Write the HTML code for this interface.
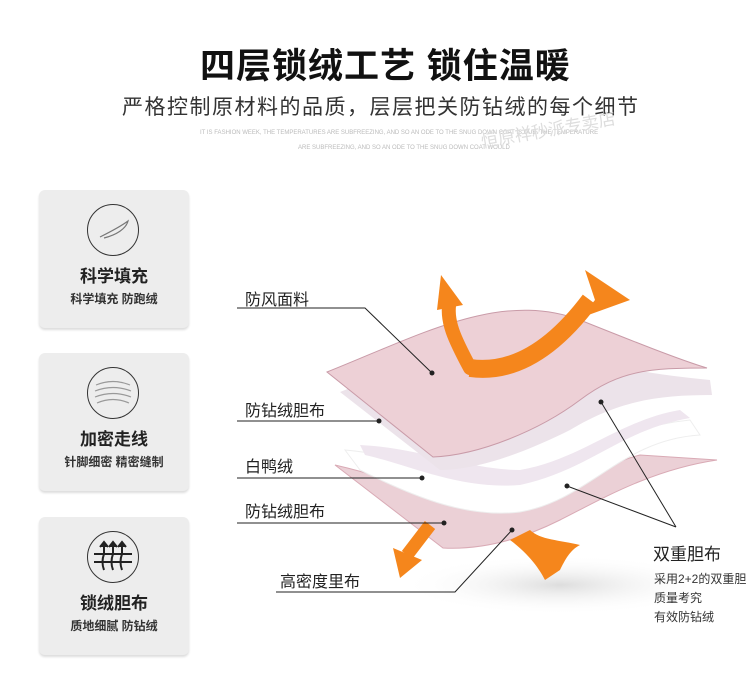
<!DOCTYPE html>
<html><head><meta charset="utf-8"><style>
body{margin:0;width:750px;height:682px;background:#fff;position:relative;overflow:hidden;font-family:"Liberation Sans","Noto Sans CJK SC",sans-serif;color:#222}
.a{position:absolute;white-space:nowrap}
.card{position:absolute;left:39px;width:150px;height:138px;background:#ededed;border-radius:6px;box-shadow:0 2px 2px #ddd}
.circ{position:absolute;left:48px;top:14px;width:50px;height:50px;border:1.5px solid #333;border-radius:50%}
.t1{position:absolute;left:0;width:150px;text-align:center;top:72px;font-size:17px;font-weight:bold;color:#222}
.t2{position:absolute;left:0;width:150px;text-align:center;top:100px;font-size:12px;font-weight:bold;color:#333}
.lb{font-size:16px;color:#222}
</style></head><body>
<div class="a" style="left:200px;top:38px;font-size:35px;font-weight:bold;letter-spacing:1px;color:#111">四层锁绒工艺 锁住温暖</div>
<div class="a" style="left:122px;top:91px;font-size:21px;color:#333;letter-spacing:1.5px">严格控制原材料的品质，层层把关防钻绒的每个细节</div>
<div class="a" style="left:200px;top:130px;font-size:6px;color:#bbb">IT IS FASHION WEEK, THE TEMPERATURES ARE SUBFREEZING, AND SO AN ODE TO THE SNUG DOWN COAT IS DUE. THE TEMPERATURE</div>
<div class="a" style="left:298px;top:145px;font-size:6px;color:#bbb">ARE SUBFREEZING, AND SO AN ODE TO THE SNUG DOWN COAT WOULD</div>
<div class="a" style="left:480px;top:116px;font-size:17px;color:#ddd;transform:rotate(-10deg)">恒原祥秒派专卖店</div>

<div class="card" style="top:190px"><div class="circ"><svg width="50" height="50"><path d="M12 32 C20 28 32 22 40 16 C38 24 28 30 16 33" fill="none" stroke="#777" stroke-width="1.2"/></svg></div><div class="t1">科学填充</div><div class="t2">科学填充 防跑绒</div></div>
<div class="card" style="top:353px"><div class="circ"><svg width="50" height="50" fill="none" stroke="#999" stroke-width="1.2"><path d="M8 17 Q25 10 42 17M7 23 Q25 16 43 23M7 29 Q25 22 43 29M9 35 Q25 28 41 35"/></svg></div><div class="t1">加密走线</div><div class="t2">针脚细密 精密缝制</div></div>
<div class="card" style="top:517px"><div class="circ"><svg width="50" height="50" fill="none" stroke="#222" stroke-width="2"><path d="M6 22H44M6 30H44M16 38Q13 30 16 22 V12M25 38Q22 30 25 22V12M34 38Q31 30 34 22V12"/><path d="M12 15L16 10 20 15M21 15L25 10 29 15M30 15L34 10 38 15" fill="#222"/></svg></div><div class="t1">锁绒胆布</div><div class="t2">质地细腻 防钻绒</div></div>

<svg class="a" style="left:0;top:0" width="750" height="682">
<defs><radialGradient id="sh" cx="50%" cy="50%" r="50%"><stop offset="0" stop-color="#ddd"/><stop offset="1" stop-color="#fff" stop-opacity="0"/></radialGradient></defs>
<ellipse cx="560" cy="585" rx="160" ry="30" fill="url(#sh)"/>
<path d="M335 465 C400 480 440 500 470 510 C540 520 580 470 640 455 L717 460 C650 470 600 500 560 520 C520 540 480 550 443 548 Z" fill="#ebd0d6" stroke="#d9aab5" stroke-width="1"/>
<path d="M345 450 C400 455 440 470 480 480 C550 490 590 430 690 420 L700 435 C620 440 590 500 520 512 C470 518 420 500 360 470 Z" fill="#fff" stroke="#eee"/>
<path d="M360 445 C420 448 470 470 520 470 C580 460 620 420 680 410 L690 418 C620 430 590 470 520 485 C460 490 410 465 365 455Z" fill="#efe6ef"/>
<path d="M340 392 C420 360 500 330 560 350 C620 370 660 375 710 380 L712 395 C660 395 620 400 570 430 C530 450 480 470 440 470 Z" fill="#ece3ea"/>
<path d="M327 372 C420 335 500 290 580 320 C630 340 680 360 707 368 C650 368 620 370 580 400 C540 430 480 455 433 457 Z" fill="#edd0d6" stroke="#c99ba8" stroke-width="1"/>
<path d="M470 368 C455 340 445 320 450 300" fill="none" stroke="#f5861c" stroke-width="14" stroke-linecap="round"/>
<path d="M470 368 C520 375 560 340 590 300" fill="none" stroke="#f5861c" stroke-width="18"/>
<polygon points="441,275 437,310 463,305" fill="#f5861c"/>
<polygon points="585,270 630,300 580,318 595,300" fill="#f5861c"/>
<path d="M430 525 L407 555" stroke="#f5861c" stroke-width="13"/>
<polygon points="393,548 400,578 422,560" fill="#f5861c"/>
<path d="M510 540 C530 555 540 570 545 580 L560 570 C565 560 570 550 580 545 C560 540 540 540 530 530 Z" fill="#f5861c"/>
<g stroke="#222" stroke-width="1" fill="none">
<path d="M237 308H365L432 373"/><path d="M237 421H379"/><path d="M237 478H422"/><path d="M237 523H444"/><path d="M276 592H455L512 530"/>
<path d="M676 527L601 402M676 527L567 486"/>
</g>
<g fill="#222"><circle cx="432" cy="373" r="2.5"/><circle cx="379" cy="421" r="2.5"/><circle cx="422" cy="478" r="2.5"/><circle cx="444" cy="523" r="2.5"/><circle cx="512" cy="530" r="2.5"/><circle cx="601" cy="402" r="2.5"/><circle cx="567" cy="486" r="2.5"/></g>
</svg>
<div class="a lb" style="left:245px;top:286px">防风面料</div>
<div class="a lb" style="left:245px;top:397px">防钻绒胆布</div>
<div class="a lb" style="left:245px;top:453px">白鸭绒</div>
<div class="a lb" style="left:245px;top:498px">防钻绒胆布</div>
<div class="a lb" style="left:280px;top:568px">高密度里布</div>
<div class="a" style="left:653px;top:540px;font-size:17px">双重胆布</div>
<div class="a" style="left:654px;top:570px;font-size:12px;color:#333;line-height:19px">采用2+2的双重胆<br>质量考究<br>有效防钻绒</div>
</body></html>
